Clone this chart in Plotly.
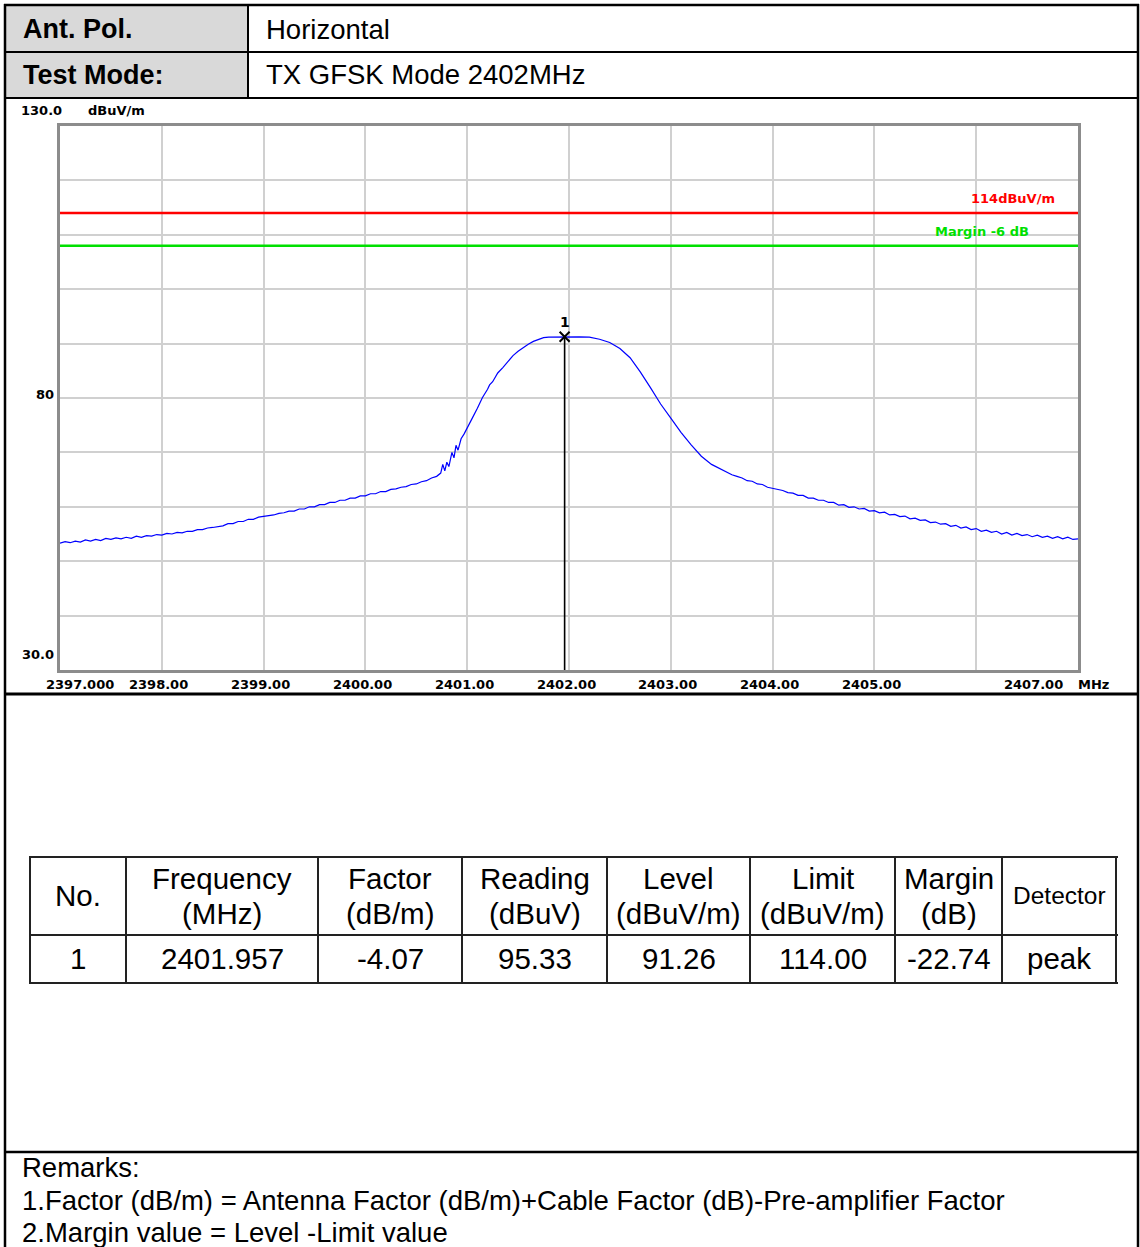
import plotly.graph_objects as go

W, H = 1140, 1247

# ---------------- data ----------------
# left skirt (read every 0.05 MHz, including the visible jitter)
freq_left = [2397.00, 2397.05, 2397.10, 2397.15, 2397.20, 2397.25, 2397.30, 2397.35, 2397.40, 2397.45,
             2397.50, 2397.55, 2397.60, 2397.65, 2397.70, 2397.75, 2397.80, 2397.85, 2397.90, 2397.95,
             2398.00, 2398.05, 2398.10, 2398.15, 2398.20, 2398.25, 2398.30, 2398.35, 2398.40, 2398.45,
             2398.50, 2398.55, 2398.60, 2398.65, 2398.70, 2398.75, 2398.80, 2398.85, 2398.90, 2398.95,
             2399.00, 2399.05, 2399.10, 2399.15, 2399.20, 2399.25, 2399.30, 2399.35, 2399.40, 2399.45,
             2399.50, 2399.55, 2399.60, 2399.65, 2399.70, 2399.75, 2399.80, 2399.85, 2399.90, 2399.95,
             2400.00, 2400.05, 2400.10, 2400.15, 2400.20, 2400.25, 2400.30, 2400.35, 2400.40, 2400.45,
             2400.50, 2400.55, 2400.60, 2400.65, 2400.70]
level_left = [53.3, 53.6, 53.4, 53.7, 53.5, 53.9, 53.7, 54.0, 53.8, 54.2,
              54.0, 54.3, 54.1, 54.4, 54.2, 54.6, 54.4, 54.7, 54.6, 54.9,
              54.8, 55.1, 55.0, 55.3, 55.2, 55.5, 55.5, 55.8, 55.8, 56.1,
              56.2, 56.4, 56.5, 56.9, 56.9, 57.3, 57.3, 57.7, 57.7, 58.1,
              58.2, 58.4, 58.5, 58.8, 58.9, 59.2, 59.2, 59.6, 59.6, 60.0,
              60.0, 60.4, 60.4, 60.8, 60.8, 61.2, 61.2, 61.6, 61.6, 62.0,
              62.0, 62.4, 62.4, 62.8, 62.8, 63.2, 63.3, 63.6, 63.7, 64.1,
              64.2, 64.6, 64.8, 65.3, 65.6]

# main lobe
freq_mid = [2400.74, 2400.76, 2400.78, 2400.80, 2400.82, 2400.85, 2400.87, 2400.89, 2400.91, 2400.94,
            2400.97, 2401.00, 2401.05, 2401.10, 2401.15, 2401.20, 2401.22, 2401.25, 2401.30, 2401.35,
            2401.40, 2401.45, 2401.50, 2401.55, 2401.60, 2401.65, 2401.70, 2401.75, 2401.80, 2401.90,
            2402.00, 2402.10, 2402.20, 2402.30, 2402.40, 2402.50, 2402.60, 2402.70, 2402.80, 2402.90,
            2403.00, 2403.10, 2403.20, 2403.30, 2403.40, 2403.50]
level_mid = [66.2, 67.8, 66.6, 68.2, 67.4, 70.0, 69.0, 71.3, 70.4, 72.5,
             73.4, 74.4, 76.3, 78.1, 80.1, 81.6, 82.4, 83.0, 84.6, 85.6,
             86.8, 87.8, 88.6, 89.3, 89.9, 90.4, 90.8, 91.1, 91.2, 91.26,
             91.26, 91.25, 91.2, 90.8, 90.2, 89.1, 87.4, 84.8, 81.9, 78.9,
             76.3, 73.7, 71.4, 69.3, 67.8, 66.8]

# right skirt
freq_right = [2403.60, 2403.65, 2403.70, 2403.75, 2403.80, 2403.85, 2403.90, 2403.95, 2404.00, 2404.05,
              2404.10, 2404.15, 2404.20, 2404.25, 2404.30, 2404.35, 2404.40, 2404.45, 2404.50, 2404.55,
              2404.60, 2404.65, 2404.70, 2404.75, 2404.80, 2404.85, 2404.90, 2404.95, 2405.00, 2405.05,
              2405.10, 2405.15, 2405.20, 2405.25, 2405.30, 2405.35, 2405.40, 2405.45, 2405.50, 2405.55,
              2405.60, 2405.65, 2405.70, 2405.75, 2405.80, 2405.85, 2405.90, 2405.95, 2406.00, 2406.05,
              2406.10, 2406.15, 2406.20, 2406.25, 2406.30, 2406.35, 2406.40, 2406.45, 2406.50, 2406.55,
              2406.60, 2406.65, 2406.70, 2406.75, 2406.80, 2406.85, 2406.90, 2406.95, 2407.00]
level_right = [65.9, 65.6, 65.3, 64.8, 64.7, 64.2, 64.1, 63.6, 63.4, 63.1,
               63.0, 62.6, 62.5, 62.1, 62.1, 61.6, 61.6, 61.2, 61.2, 60.8,
               60.8, 60.3, 60.4, 59.9, 60.0, 59.6, 59.7, 59.2, 59.3, 58.9,
               59.0, 58.5, 58.6, 58.2, 58.3, 57.8, 57.9, 57.5, 57.6, 57.1,
               57.2, 56.8, 56.9, 56.4, 56.6, 56.1, 56.3, 55.8, 56.0, 55.5,
               55.7, 55.3, 55.5, 55.0, 55.3, 54.8, 55.1, 54.7, 54.9, 54.5,
               54.8, 54.4, 54.6, 54.2, 54.5, 54.1, 54.4, 54.0, 54.1]

limit_value = 114.0
margin_line_value = 108.0
limit_label = "114dBuV/m"
margin_label = "Margin -6 dB"
marker_freq = 2401.957
marker_level = 91.26
marker_no = "1"

x_min, x_max = 2397.0, 2407.0
y_min, y_max = 30.0, 130.0
x_tick_vals = [2397, 2398, 2399, 2400, 2401, 2402, 2403, 2404, 2405, 2407]
x_tick_text = ["2397.000", "2398.00", "2399.00", "2400.00", "2401.00", "2402.00",
               "2403.00", "2404.00", "2405.00", "2407.00"]
x_unit = "MHz"
y_label_vals = [130, 80, 30]
y_label_text = ["130.0", "80", "30.0"]
y_unit = "dBuV/m"

header_labels = ["Ant. Pol.", "Test Mode:"]
header_values = ["Horizontal", "TX GFSK Mode 2402MHz"]

table_head_1 = ["No.", "Frequency", "Factor", "Reading", "Level", "Limit", "Margin", "Detector"]
table_head_2 = ["", "(MHz)", "(dB/m)", "(dBuV)", "(dBuV/m)", "(dBuV/m)", "(dB)", ""]
table_row = ["1", "2401.957", "-4.07", "95.33", "91.26", "114.00", "-22.74", "peak"]

remarks = ["Remarks:",
           "1.Factor (dB/m) = Antenna Factor (dB/m)+Cable Factor (dB)-Pre-amplifier Factor",
           "2.Margin value = Level -Limit value"]

freq = freq_left + freq_mid + freq_right
level = level_left + level_mid + level_right

# ---------------- helpers ----------------
def px(x):
    return x / W


def py(y):
    return 1 - y / H


PLOT_L, PLOT_R, PLOT_T, PLOT_B = 60, 1078, 126, 670
TEXT_FONT = "Liberation Sans, Arial, sans-serif"
CHART_FONT = "DejaVu Sans, sans-serif"

shapes = []
annotations = []


def hline(x0, x1, y, w=2, color="black"):
    shapes.append(dict(type="line", xref="paper", yref="paper", x0=px(x0), x1=px(x1),
                       y0=py(y), y1=py(y), line=dict(color=color, width=w)))


def vline(x, y0, y1, w=2, color="black"):
    shapes.append(dict(type="line", xref="paper", yref="paper", x0=px(x), x1=px(x),
                       y0=py(y0), y1=py(y1), line=dict(color=color, width=w)))


def text(x, y, s, size, bold=False, anchor="left", color="black", font=TEXT_FONT):
    annotations.append(dict(xref="paper", yref="paper", x=px(x), y=py(y), text=(f"<b>{s}</b>" if bold else s),
                            showarrow=False, xanchor=anchor, yanchor="middle",
                            font=dict(family=font, size=size, color=color)))


# header block
shapes.append(dict(type="rect", xref="paper", yref="paper", x0=px(5), x1=px(248), y0=py(98), y1=py(5),
                   fillcolor="#d9d9d9", line=dict(width=0), layer="below"))
hline(4, 1139, 5, 2.5)
hline(4, 1139, 52, 2)
hline(4, 1139, 98, 2)
vline(248, 5, 98, 2)
vline(5, 4, 1247, 2.5)
vline(1138, 4, 1247, 2.5)
row_y = [29, 75]
for i, (lab, val) in enumerate(zip(header_labels, header_values)):
    text(21, row_y[i], lab, 27, bold=True)
    text(264, row_y[i], val, 27.5)

# chart bottom separator and remarks separator
hline(4, 1139, 694, 3)
hline(4, 1139, 1152, 2.5)

# results table
col_x = [30, 126, 318, 462, 607, 750, 895, 1002, 1116]
tab_top, tab_mid, tab_bot = 857, 935, 983
for yy in (tab_top, tab_mid, tab_bot):
    hline(29, 1118, yy, 2, "#222222")
for xx in col_x:
    vline(xx, tab_top, tab_bot, 2, "#222222")
for i in range(len(table_head_1)):
    cx = (col_x[i] + col_x[i + 1]) / 2
    if table_head_2[i]:
        text(cx, 878, table_head_1[i], 29.5, anchor="center")
        text(cx, 913, table_head_2[i], 29.5, anchor="center")
    else:
        sz = 24.5 if table_head_1[i] == "Detector" else 29.5
        text(cx, 895, table_head_1[i], sz, anchor="center")
    text(cx, 958, table_row[i], 29.5, anchor="center")

# remarks
for yy, s in zip([1167, 1200, 1232], remarks):
    text(20, yy, s, 27.5)

# ---------------- chart ----------------
fig = go.Figure()

fig.add_trace(go.Scatter(x=[x_min, x_max], y=[limit_value, limit_value], mode="lines",
                         line=dict(color="#ff0000", width=2.5), hoverinfo="skip"))
fig.add_trace(go.Scatter(x=[x_min, x_max], y=[margin_line_value, margin_line_value], mode="lines",
                         line=dict(color="#00e000", width=2.5), hoverinfo="skip"))
fig.add_trace(go.Scatter(x=freq, y=level, mode="lines",
                         line=dict(color="#0000ff", width=1.2), hoverinfo="skip"))
fig.add_trace(go.Scatter(x=[marker_freq, marker_freq], y=[y_min, marker_level], mode="lines",
                         line=dict(color="black", width=1.6), hoverinfo="skip"))
fig.add_trace(go.Scatter(x=[marker_freq], y=[marker_level], mode="markers",
                         marker=dict(symbol="x-thin", size=10, line=dict(color="black", width=2)),
                         hoverinfo="skip"))

chart_font = dict(family=CHART_FONT, size=13, color="black")
annotations.append(dict(xref="x", yref="y", x=marker_freq, y=marker_level, text=f"<b>{marker_no}</b>",
                        showarrow=False, yanchor="bottom", yshift=5,
                        font=dict(family=CHART_FONT, size=14, color="black")))
annotations.append(dict(xref="x", yref="y", x=x_max, y=limit_value, text=f"<b>{limit_label}</b>",
                        showarrow=False, xanchor="right", yanchor="bottom", xshift=-21, yshift=5,
                        font=dict(family=CHART_FONT, size=13, color="#ff0000")))
annotations.append(dict(xref="x", yref="y", x=x_max, y=margin_line_value, text=f"<b>{margin_label}</b>",
                        showarrow=False, xanchor="right", yanchor="bottom", xshift=-47, yshift=5,
                        font=dict(family=CHART_FONT, size=13, color="#00e000")))

# x tick labels
for v, s in zip(x_tick_vals, x_tick_text):
    anchor, shift = "center", -3
    if s == x_tick_text[0]:
        anchor, shift = "left", -16
    elif v == x_max:
        anchor, shift = "right", -13
    annotations.append(dict(xref="x", yref="y", x=v, y=y_min, text=f"<b>{s}</b>", showarrow=False,
                            xanchor=anchor, yanchor="top", xshift=shift, yshift=-5, font=chart_font))
annotations.append(dict(xref="x", yref="y", x=x_max, y=y_min, text=f"<b>{x_unit}</b>", showarrow=False,
                        xanchor="left", yanchor="top", xshift=-2, yshift=-5, font=chart_font))

# y labels
for v, s in zip(y_label_vals, y_label_text):
    if v == y_max:
        annotations.append(dict(xref="paper", yref="y", x=px(64), y=v, text=f"<b>{s}</b>", showarrow=False,
                                xanchor="right", yanchor="bottom", yshift=6, font=chart_font))
    elif v == y_min:
        annotations.append(dict(xref="paper", yref="y", x=px(56), y=v, text=f"<b>{s}</b>", showarrow=False,
                                xanchor="right", yanchor="bottom", yshift=6, font=chart_font))
    else:
        annotations.append(dict(xref="paper", yref="y", x=px(56), y=v, text=f"<b>{s}</b>", showarrow=False,
                                xanchor="right", yanchor="middle", yshift=4, font=chart_font))
annotations.append(dict(xref="paper", yref="y", x=px(86), y=y_max, text=f"<b>{y_unit}</b>", showarrow=False,
                        xanchor="left", yanchor="bottom", yshift=6, font=chart_font))

fig.update_layout(
    width=W, height=H, autosize=False,
    margin=dict(l=0, r=0, t=0, b=0, pad=0),
    paper_bgcolor="white", plot_bgcolor="white",
    showlegend=False,
    shapes=shapes, annotations=annotations,
    xaxis=dict(domain=[px(PLOT_L), px(PLOT_R)], range=[x_min, x_max], tickmode="linear", tick0=x_min,
               dtick=1, showticklabels=False, ticks="", showgrid=True, gridcolor="#d0d0d0", gridwidth=1.5,
               showline=True, linecolor="#8c8c8c", linewidth=2.5, mirror=True, zeroline=False,
               fixedrange=True),
    yaxis=dict(domain=[py(PLOT_B), py(PLOT_T)], range=[y_min, y_max], tickmode="linear", tick0=y_min,
               dtick=10, showticklabels=False, ticks="", showgrid=True, gridcolor="#d0d0d0", gridwidth=1.5,
               showline=True, linecolor="#8c8c8c", linewidth=2.5, mirror=True, zeroline=False,
               fixedrange=True),
)

fig.write_html("out.html")
